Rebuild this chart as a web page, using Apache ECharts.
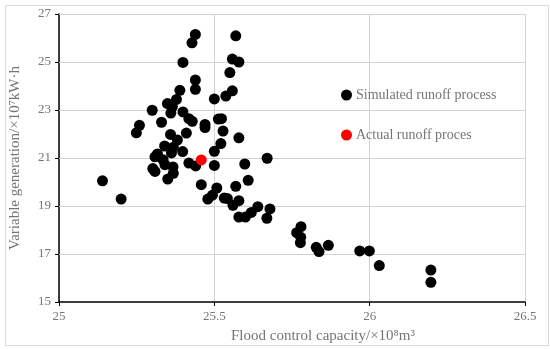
<!DOCTYPE html>
<html>
<head>
<meta charset="utf-8">
<script src="https://cdn.jsdelivr.net/npm/echarts@6/dist/echarts.min.js"></script>
<style>html,body{margin:0;padding:0;background:#fff}#c{width:550px;height:349px}</style>
</head>
<body>
<div id="c"></div>
<script>
const xTicks = [25, 25.5, 26, 26.5];
const yTicks = [15, 17, 19, 21, 23, 25, 27];
const seriesNames = ['Simulated runoff process', 'Actual runoff proces'];
const xName = 'Flood control capacity/×10⁸m³';
const yName = 'Variable generation/×10⁷kW·h';
const simulated = [
  [25.140,20.05],[25.200,19.29],[25.249,22.05],[25.259,22.36],[25.300,22.99],
  [25.330,22.49],[25.349,23.27],[25.365,23.14],[25.360,22.87],[25.378,23.44],
  [25.389,23.82],[25.399,24.98],[25.399,22.92],[25.410,22.04],[25.418,22.64],
  [25.429,22.53],[25.428,25.80],[25.439,26.15],[25.439,24.25],[25.439,23.86],
  [25.359,21.98],[25.381,21.75],[25.340,21.50],[25.368,21.45],[25.362,21.21],
  [25.398,21.27],[25.317,21.17],[25.309,21.05],[25.335,20.93],[25.341,20.72],
  [25.302,20.56],[25.309,20.44],[25.367,20.63],[25.368,20.36],[25.350,20.12],
  [25.418,20.79],[25.440,20.67],[25.458,19.89],[25.470,22.40],[25.470,22.27],
  [25.513,22.62],[25.523,22.64],[25.528,22.12],[25.579,21.84],[25.521,21.60],
  [25.500,21.28],[25.500,20.69],[25.598,20.75],[25.670,20.99],[25.609,20.07],
  [25.508,19.75],[25.569,19.82],[25.494,19.45],[25.479,19.29],[25.532,19.33],
  [25.542,19.31],[25.579,19.22],[25.560,19.03],[25.640,18.97],[25.619,18.73],
  [25.679,18.88],[25.579,18.54],[25.600,18.54],[25.669,18.49],[25.779,18.14],
  [25.765,17.89],[25.778,17.70],[25.777,17.47],[25.828,17.28],[25.837,17.10],
  [25.867,17.36],[25.968,17.13],[25.999,17.13],[26.031,16.52],[26.197,16.33],
  [26.197,15.82],[25.569,26.09],[25.558,25.12],[25.579,25.00],[25.550,24.56],
  [25.558,23.80],[25.537,23.58],[25.500,23.46]
];
const actual = [[25.458,20.92]];

const font = 'Liberation Serif';
const gray = '#757575';
const gridColor = '#d2d2d2';
const chart = echarts.init(document.getElementById('c'), null, {renderer:'canvas'});
chart.setOption({
  animation: false,
  backgroundColor: '#fff',
  graphic: [{
    type: 'rect', left: 3, top: 3, z: -1,
    shape: {width: 543, height: 340},
    style: {fill: 'none', stroke: '#d9d9d9', lineWidth: 1}
  }],
  grid: {left: 54, right: 25, top: 14, bottom: 47, containLabel: false},
  legend: {
    orient: 'vertical', left: 336, top: 83, itemWidth: 11, itemHeight: 11, itemGap: 26,
    icon: 'circle',
    textStyle: {fontFamily: font, fontSize: 14, color: gray, padding: [0,0,0,-1]},
    data: seriesNames
  },
  xAxis: {
    type: 'value', min: xTicks[0], max: xTicks[xTicks.length-1], interval: 0.5,
    name: xName, nameLocation: 'middle', nameGap: 27,
    nameTextStyle: {fontFamily: font, fontSize: 15, color: gray, padding: [0,0,0,62]},
    axisLine: {show: true, onZero: false, lineStyle: {color: '#000', width: 1.5}},
    axisTick: {show: true, length: 4, lineStyle: {color: '#000'}},
    axisLabel: {fontFamily: font, fontSize: 13, color: gray, margin: 8},
    splitLine: {show: true, showMinLine: true, showMaxLine: true, lineStyle: {color: gridColor, width: 1, type: 'solid'}}
  },
  yAxis: {
    type: 'value', min: yTicks[0], max: yTicks[yTicks.length-1], interval: 2,
    name: yName, nameLocation: 'middle', nameGap: 36,
    nameTextStyle: {fontFamily: font, fontSize: 15, color: gray},
    axisLine: {show: true, onZero: false, lineStyle: {color: '#000', width: 1.5}},
    axisTick: {show: true, length: 4, lineStyle: {color: '#000'}},
    axisLabel: {fontFamily: font, fontSize: 13, color: gray, margin: 8},
    splitLine: {show: false}
  },
  series: [
    {type: 'line', data: [], z: 0, silent: true,
     markLine: {
       z: 1, silent: true, symbol: ['none', 'none'], animation: false,
       label: {show: false},
       lineStyle: {color: gridColor, width: 1, type: 'solid'},
       emphasis: {disabled: true},
       data: yTicks.slice(1).map(v => ({yAxis: v}))
     }},
    {name: seriesNames[0], type: 'scatter', data: simulated, symbolSize: 11, z: 3,
     itemStyle: {color: '#000', opacity: 1}},
    {name: seriesNames[1], type: 'scatter', data: actual, symbolSize: 11, z: 3,
     itemStyle: {color: '#ff0000', opacity: 1}}
  ]
});
</script>
</body>
</html>
